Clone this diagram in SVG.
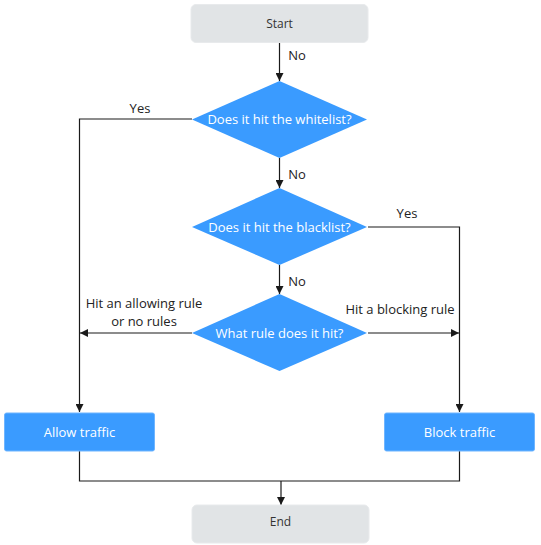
<svg xmlns="http://www.w3.org/2000/svg" width="541" height="545" viewBox="0 0 541 545">
<style>
.term{fill:#e1e4e6;stroke:#e8eaec;stroke-width:1}
.proc{fill:#3a9bff;stroke:#6fb5ff;stroke-width:1}
.dec{fill:#3a9bff}
.tw{font-family:"Open Sans","Noto Sans",sans-serif;font-size:13px;fill:#ffffff;text-anchor:middle}
.td{font-family:"Open Sans","Noto Sans",sans-serif;font-size:12px;fill:#333333;text-anchor:middle}
.tl{font-family:"Open Sans","Noto Sans",sans-serif;font-size:13px;fill:#222222;text-anchor:middle}
.ln{fill:none;stroke:#1a1a1a;stroke-width:1.2}
</style>
<defs>
<marker id="ah" viewBox="0 0 8 8" refX="8" refY="4" markerWidth="8" markerHeight="8" markerUnits="userSpaceOnUse" orient="auto">
<path d="M0,0 L8,4 L0,8 z" fill="#1a1a1a"/>
</marker>
</defs>
<g id="connectors">
<path class="ln" d="M279.5,42 V81" marker-end="url(#ah)"/>
<path class="ln" d="M192,119 H79.5 V412" marker-end="url(#ah)"/>
<path class="ln" d="M279.5,158 V188" marker-end="url(#ah)"/>
<path class="ln" d="M368,227 H459.5 V412" marker-end="url(#ah)"/>
<path class="ln" d="M279.5,265 V294" marker-end="url(#ah)"/>
<path class="ln" d="M192,333 H80" marker-end="url(#ah)"/>
<path class="ln" d="M368,333 H459" marker-end="url(#ah)"/>
<path class="ln" d="M79.5,451 V481 H459.5 V451"/>
<path class="ln" d="M281,481 V505" marker-end="url(#ah)"/>
<text class="tl" x="297" y="60">No</text>
<text class="tl" x="140" y="113">Yes</text>
<text class="tl" x="297" y="179">No</text>
<text class="tl" x="407" y="218">Yes</text>
<text class="tl" x="297" y="286">No</text>
<text class="tl" x="144" y="308">Hit an allowing rule</text>
<text class="tl" x="144" y="326">or no rules</text>
<text class="tl" x="400" y="314">Hit a blocking rule</text>
</g>
<g id="start">
<rect class="term" x="191" y="4.5" width="177" height="38" rx="5"/>
<text class="td" x="279.5" y="28">Start</text>
</g>
<g id="whitelist">
<path class="dec" d="M279.5,81 L367,119.5 L279.5,158 L192,119.5 z"/>
<text class="tw" x="279.5" y="124">Does it hit the whitelist?</text>
</g>
<g id="blacklist">
<path class="dec" d="M279.5,188 L367,227 L279.5,265 L192,227 z"/>
<text class="tw" x="279.5" y="231.5">Does it hit the blacklist?</text>
</g>
<g id="rule">
<path class="dec" d="M279.5,294 L367,333 L279.5,371 L192,333 z"/>
<text class="tw" x="279.5" y="337.5">What rule does it hit?</text>
</g>
<g id="allow">
<rect class="proc" x="4.5" y="413" width="150" height="38" rx="2"/>
<text class="tw" x="79.5" y="437">Allow traffic</text>
</g>
<g id="block">
<rect class="proc" x="384.5" y="413" width="150" height="38" rx="2"/>
<text class="tw" x="459.5" y="437">Block traffic</text>
</g>
<g id="end">
<rect class="term" x="192" y="505" width="177" height="38" rx="5"/>
<text class="td" x="280.5" y="526">End</text>
</g>
</svg>
